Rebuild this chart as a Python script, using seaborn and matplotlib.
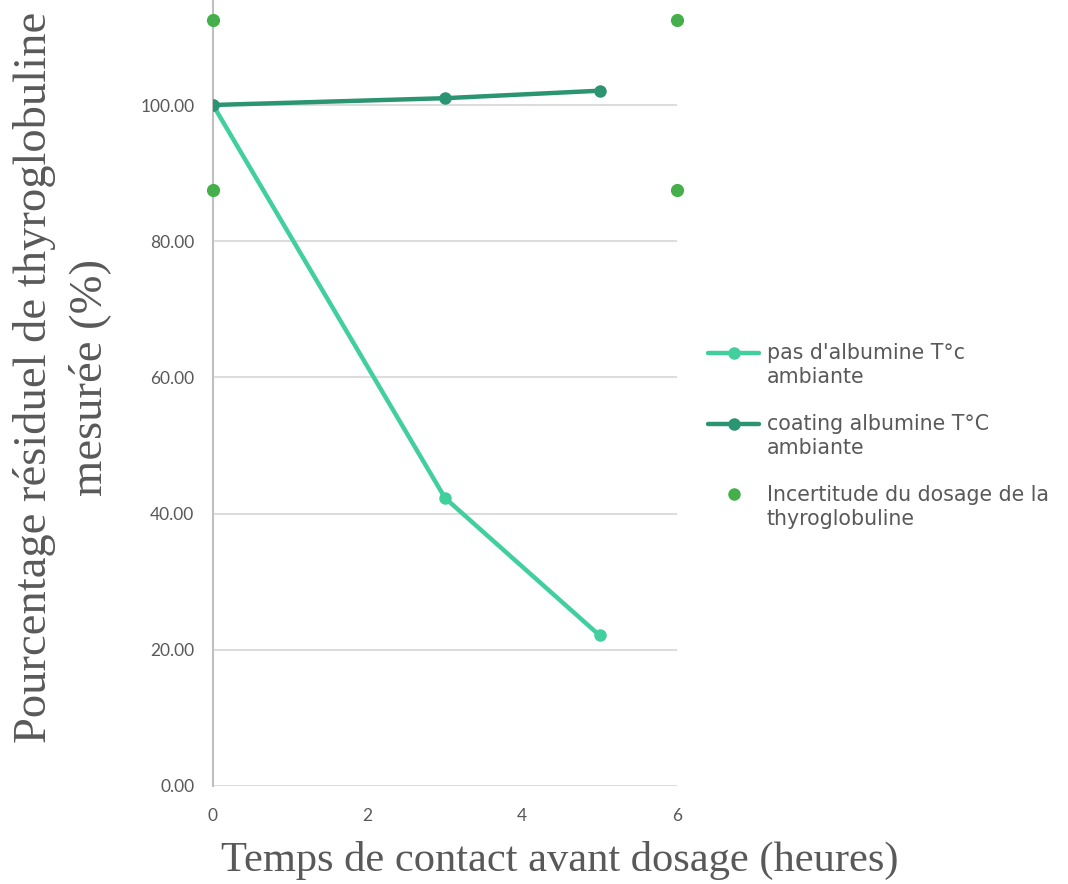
import matplotlib
matplotlib.use("Agg")
import matplotlib.pyplot as plt
import seaborn as sns
import pandas as pd
from matplotlib.lines import Line2D

# Data
time_h = [0, 3, 5]
no_albumin = [100.0, 42.3, 22.1]
coating_albumin = [100.0, 101.0, 102.1]
unc_x = [0, 0, 6, 6]
unc_y = [112.5, 87.5, 112.5, 87.5]

labels = ["pas d'albumine T°c\nambiante", "coating albumine T°C\nambiante",
          "Incertitude du dosage de la\nthyroglobuline"]
colors = ["#41CF9E", "#2B9470", "#45B04B"]
xticks = [0, 2, 4, 6]
yticks = [0, 20, 40, 60, 80, 100]

sns.set_style("white")
plt.rcParams['font.family'] = ['Lato', 'DejaVu Sans']

fig = plt.figure(figsize=(10.68, 8.84), dpi=100)
ax = fig.add_axes([213/1068, 1 - 786/884, (677-213)/1068, 786/884])

df1 = pd.DataFrame({"t": time_h, "v": no_albumin})
df2 = pd.DataFrame({"t": time_h, "v": coating_albumin})
dfu = pd.DataFrame({"t": unc_x, "v": unc_y})

sns.lineplot(data=df1, x="t", y="v", ax=ax, color=colors[0], lw=3.2,
             marker="o", markersize=9, markeredgewidth=0, zorder=3)
sns.lineplot(data=df2, x="t", y="v", ax=ax, color=colors[1], lw=3.2,
             marker="o", markersize=9, markeredgewidth=0, zorder=4)
sns.scatterplot(data=dfu, x="t", y="v", ax=ax, color=colors[2], s=90,
                linewidth=0, zorder=5, clip_on=False)

ax.set_xlim(0, 6)
ax.set_ylim(0, 786/6.81)
ax.set_xticks(xticks)
ax.set_yticks(yticks)
ax.set_yticklabels([f"{v:.2f}" for v in yticks])
ax.tick_params(axis="both", labelsize=12.5, colors="#595959", length=0)
ax.tick_params(axis="y", pad=13.5)
ax.tick_params(axis="x", pad=15.5)
for y in yticks:
    ax.axhline(y, color="#D9D9D9", lw=1.3, zorder=1)
for s in ["top", "right", "bottom"]:
    ax.spines[s].set_visible(False)
ax.spines["left"].set_color("#BFBFBF")
ax.spines["left"].set_linewidth(1.5)
ax.grid(False)
ax.set_xlabel("")
ax.set_ylabel("")

fig.text(62/1068, 1 - 377/884, "Pourcentage résiduel de thyroglobuline\nmesurée (%)",
         rotation=90, ha="center", va="center", family="Liberation Serif",
         fontsize=33.6, color="#595959", linespacing=1.38)
fig.text(560/1068, 1 - 860/884, "Temps de contact avant dosage (heures)",
         ha="center", va="center", family="Liberation Serif", fontsize=30.6,
         color="#595959")

handles = [
    Line2D([], [], color=colors[0], lw=3.2, marker="o", markersize=9, markeredgewidth=0),
    Line2D([], [], color=colors[1], lw=3.2, marker="o", markersize=9, markeredgewidth=0),
    Line2D([], [], color=colors[2], lw=0, marker="o", markersize=9, markeredgewidth=0),
]
leg = fig.legend(handles, labels, loc="center left", bbox_to_anchor=(708/1068, 1 - 436/884),
                 frameon=False, prop={"family": "DejaVu Sans", "size": 14.8},
                 labelcolor="#595959", handlelength=2.5,
                 handletextpad=0.35, labelspacing=1.3, borderaxespad=0, borderpad=0)
for t in leg.get_texts():
    t.set_linespacing(1.25)
# align handle with first text line
for h in leg.legend_handles:
    yd = h.get_ydata()
    h.set_ydata(yd + 9.4)

fig.savefig("out.png", dpi=100)
